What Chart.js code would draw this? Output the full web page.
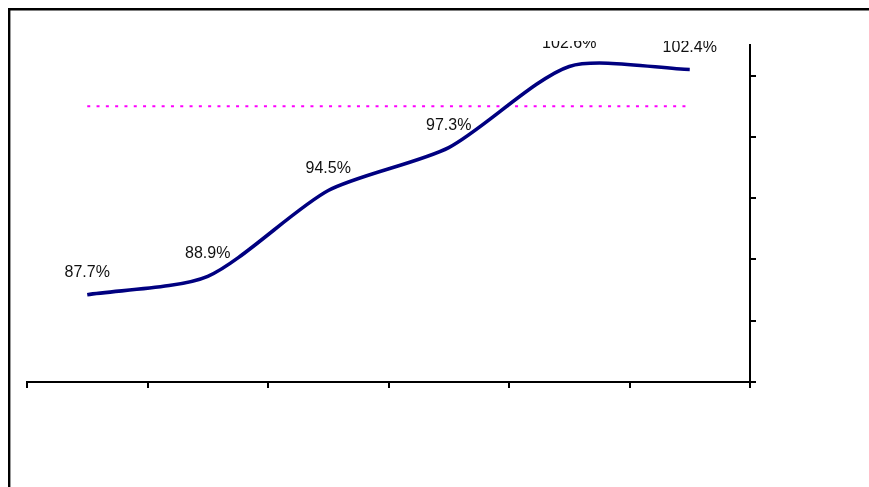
<!DOCTYPE html>
<html>
<head>
<meta charset="utf-8">
<script src="https://cdn.jsdelivr.net/npm/chart.js@4/dist/chart.umd.min.js"></script>
<style>
  html, body { margin: 0; padding: 0; background: #fff; }
  #wrap { position: relative; width: 869px; height: 487px; }
</style>
</head>
<body>
<div id="wrap"><canvas id="c" width="869" height="487"></canvas></div>
<script>
// Periods along the horizontal axis (not labelled on the chart)
const categories = ['1', '2', '3', '4', '5', '6'];
// Ratio per period, in percent
const ratioValues = [87.7, 88.9, 94.5, 97.3, 102.6, 102.4];
// Reference level drawn as a dotted line
const targetValues = [100, 100, 100, 100, 100, 100];
// Value axis range and tick spacing
const yMin = 82;
const yMax = 104;
const yStep = 4;

// Thin frame along the top and left edges
const framePlugin = {
  id: 'frame',
  beforeDraw(chart) {
    const ctx = chart.ctx;
    ctx.save();
    ctx.fillStyle = '#fff';
    ctx.fillRect(0, 0, chart.width, chart.height);
    ctx.strokeStyle = '#000';
    ctx.lineWidth = 2.4;
    ctx.beginPath();
    ctx.moveTo(9.2, chart.height + 2);
    ctx.lineTo(9.2, 9.2);
    ctx.lineTo(chart.width + 2, 9.2);
    ctx.stroke();
    ctx.restore();
  }
};

// Percent labels above each point of the ratio line
const valueLabels = {
  id: 'valueLabels',
  afterDatasetsDraw(chart) {
    const ctx = chart.ctx;
    const meta = chart.getDatasetMeta(0);
    ctx.save();
    ctx.beginPath();
    ctx.rect(0, 41, chart.width, chart.height - 41);
    ctx.clip();
    ctx.fillStyle = '#111';
    ctx.font = '16px "Liberation Sans", Arial, sans-serif';
    ctx.textAlign = 'center';
    ctx.textBaseline = 'alphabetic';
    meta.data.forEach((pt, i) => {
      ctx.fillText(ratioValues[i].toFixed(1) + '%', pt.x, pt.y - 18);
    });
    ctx.restore();
  }
};

new Chart(document.getElementById('c'), {
  type: 'line',
  data: {
    labels: categories,
    datasets: [
      {
        data: ratioValues,
        borderColor: '#000080',
        borderWidth: 3.6,
        borderCapStyle: 'butt',
        borderJoinStyle: 'round',
        tension: 0.25,
        pointRadius: 0,
        fill: false
      },
      {
        data: targetValues,
        borderColor: '#ff00ff',
        borderWidth: 2,
        borderDash: [3, 6.3],
        tension: 0,
        pointRadius: 0,
        fill: false
      }
    ]
  },
  options: {
    responsive: false,
    animation: false,
    devicePixelRatio: 1,
    layout: { padding: { left: 27, top: 45, right: 113, bottom: 99 } },
    plugins: {
      legend: { display: false },
      tooltip: { enabled: false },
      title: { display: false }
    },
    scales: {
      x: {
        type: 'category',
        offset: true,
        grid: {
          offset: true,
          drawOnChartArea: false,
          drawTicks: true,
          tickLength: 6,
          color: '#000',
          lineWidth: 2
        },
        border: { display: true, color: '#000', width: 2 },
        ticks: { display: false }
      },
      y: {
        position: 'right',
        min: yMin,
        max: yMax,
        afterBuildTicks(scale) {
          const t = [];
          for (let v = yMin; v <= yMax - yStep / 2; v += yStep) t.push({ value: v });
          scale.ticks = t;
        },
        grid: {
          drawOnChartArea: false,
          drawTicks: true,
          tickLength: 6,
          color: '#000',
          lineWidth: 2
        },
        border: { display: true, color: '#000', width: 2 },
        ticks: { display: false, stepSize: yStep }
      }
    }
  },
  plugins: [framePlugin, valueLabels]
});
</script>
</body>
</html>
